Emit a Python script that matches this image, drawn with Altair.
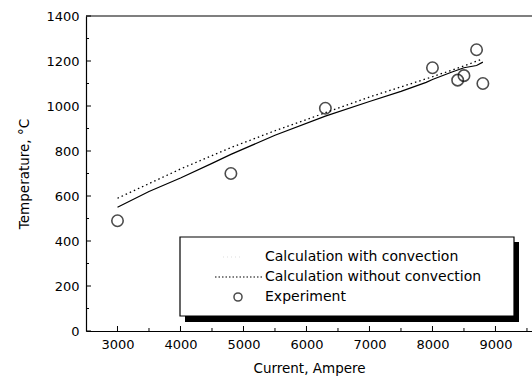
import altair as alt
import pandas as pd

# ---- data ----
exp_current = [3000, 4800, 6300, 8000, 8400, 8500, 8700, 8800]
exp_temp = [490, 700, 990, 1170, 1115, 1135, 1250, 1100]

conv_current = [3000, 3500, 4000, 4500, 4800, 5500, 6300, 7000, 7500, 7900, 8000, 8300, 8500, 8700, 8800]
conv_temp = [550, 620, 680, 745, 785, 870, 955, 1020, 1065, 1105, 1118, 1150, 1170, 1180, 1195]

noconv_current = [3000, 3500, 4000, 4800, 5500, 6300, 7000, 7500, 8000, 8500, 8800]
noconv_temp = [590, 655, 720, 815, 890, 970, 1040, 1085, 1130, 1178, 1210]

x_major = [3000, 4000, 5000, 6000, 7000, 8000, 9000]
x_minor = [3500, 4500, 5500, 6500, 7500, 8500, 9500]
y_major = [0, 200, 400, 600, 800, 1000, 1200, 1400]
y_minor = [100, 300, 500, 700, 900, 1100, 1300]

legend_labels = ["Calculation with convection", "Calculation without convection", "Experiment"]

FONT = "DejaVu Sans"
W, H = 446, 315
XDOM = [2500, 9580]
YDOM = [0, 1400]

xs = alt.Scale(domain=XDOM, nice=False, zero=False)
ys = alt.Scale(domain=YDOM, nice=False, zero=False)

df_exp = pd.DataFrame({"x": exp_current, "y": exp_temp})
df_conv = pd.DataFrame({"x": conv_current, "y": conv_temp})
df_noconv = pd.DataFrame({"x": noconv_current, "y": noconv_temp})

xaxis = alt.Axis(values=x_major, format="d", ticks=False, grid=False, domainColor="black", domainWidth=1.2,
                 labelFont=FONT, labelFontSize=13, labelColor="black", labelPadding=7,
                 title="Current, Ampere", titleFont=FONT, titleFontSize=13.5, titleFontWeight="normal",
                 titleColor="black", titlePadding=10)
yaxis = alt.Axis(values=y_major, format="d", ticks=False, grid=False, domainColor="black", domainWidth=1.2,
                 labelFont=FONT, labelFontSize=13, labelColor="black", labelPadding=7,
                 title="Temperature, °C", titleFont=FONT, titleFontSize=13.5, titleFontWeight="normal",
                 titleColor="black", titlePadding=14)

conv = alt.Chart(df_conv).mark_line(color="black", strokeWidth=1.2).encode(
    x=alt.X("x:Q", scale=xs, axis=xaxis),
    y=alt.Y("y:Q", scale=ys, axis=yaxis),
)
noconv = alt.Chart(df_noconv).mark_line(color="black", strokeWidth=1.3, strokeDash=[1.5, 3]).encode(
    x=alt.X("x:Q", scale=xs), y=alt.Y("y:Q", scale=ys))
pts = alt.Chart(df_exp).mark_point(shape="circle", filled=False, color="black", size=130, strokeWidth=1.6).encode(
    x=alt.X("x:Q", scale=xs), y=alt.Y("y:Q", scale=ys))

# inward ticks
xmaj = alt.Chart(pd.DataFrame({"x": x_major})).mark_rule(color="black", strokeWidth=1).encode(
    x=alt.X("x:Q", scale=xs), y=alt.value(H), y2=alt.value(H - 5))
xmin = alt.Chart(pd.DataFrame({"x": x_minor})).mark_rule(color="black", strokeWidth=1).encode(
    x=alt.X("x:Q", scale=xs), y=alt.value(H), y2=alt.value(H - 3))
ymaj = alt.Chart(pd.DataFrame({"y": y_major})).mark_rule(color="black", strokeWidth=1).encode(
    y=alt.Y("y:Q", scale=ys), x=alt.value(0), x2=alt.value(5))
ymin = alt.Chart(pd.DataFrame({"y": y_minor})).mark_rule(color="black", strokeWidth=1).encode(
    y=alt.Y("y:Q", scale=ys), x=alt.value(0), x2=alt.value(3))
top = alt.Chart(pd.DataFrame({"a": [0]})).mark_rule(color="black", strokeWidth=1.2).encode(
    x=alt.value(0), x2=alt.value(W + 2), y=alt.value(0))

# legend box with shadow
shadow = alt.Chart(pd.DataFrame({"a": [0]})).mark_rect(color="black").encode(
    x=alt.value(99), x2=alt.value(433), y=alt.value(226), y2=alt.value(306))
box = alt.Chart(pd.DataFrame({"a": [0]})).mark_rect(fill="white", stroke="black", strokeWidth=1.2).encode(
    x=alt.value(94), x2=alt.value(428), y=alt.value(221), y2=alt.value(300))
leg1_line = alt.Chart(pd.DataFrame({"a": [0]})).mark_rule(color="#dddddd", strokeWidth=1, strokeDash=[1, 3]).encode(
    x=alt.value(137), x2=alt.value(155), y=alt.value(241))
leg2_line = alt.Chart(pd.DataFrame({"a": [0]})).mark_rule(color="black", strokeWidth=1.2, strokeDash=[1.5, 2]).encode(
    x=alt.value(129), x2=alt.value(177), y=alt.value(261))
leg3_pt = alt.Chart(pd.DataFrame({"a": [0]})).mark_point(shape="circle", filled=False, color="black", size=65, strokeWidth=1.5).encode(
    x=alt.value(152), y=alt.value(281))
leg_texts = [
    alt.Chart(pd.DataFrame({"a": [0]})).mark_text(align="left", baseline="middle", font=FONT, fontSize=14, color="black").encode(
        x=alt.value(179), y=alt.value(yy), text=alt.value(lbl))
    for lbl, yy in zip(legend_labels, [241, 261, 281])
]

chart = alt.layer(conv, noconv, pts, xmaj, xmin, ymaj, ymin, top, shadow, box, leg1_line, leg2_line, leg3_pt, *leg_texts).properties(
    width=W, height=H,
    autosize=alt.AutoSizeParams(type="none"),
    padding={"left": 86, "top": 16, "right": 0, "bottom": 54},
    background="white",
).configure_view(stroke=None)

chart.save("out.html", embed_options={"renderer": "svg", "actions": False})
